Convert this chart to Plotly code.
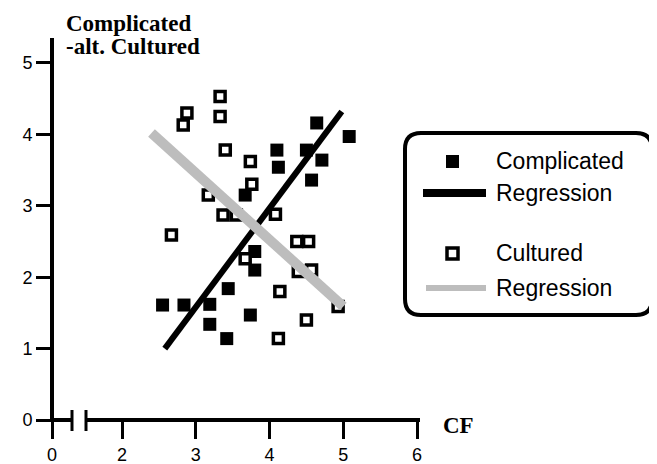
import plotly.graph_objects as go

# ---- data ----
complicated_x = [2.55, 2.84, 3.19, 3.19, 3.42, 3.44, 3.74, 3.80, 3.80, 3.67, 4.10, 4.12, 4.50, 4.57, 4.64, 4.71, 5.08]
complicated_y = [1.61, 1.61, 1.62, 1.34, 1.14, 1.84, 1.47, 2.10, 2.36, 3.15, 3.78, 3.54, 3.78, 3.36, 4.16, 3.64, 3.97]

cultured_x = [3.33, 2.88, 2.83, 3.33, 3.40, 3.74, 3.76, 3.17, 3.37, 3.55, 4.08, 2.67, 4.37, 4.53, 3.67, 4.39, 4.57, 4.14, 4.93, 4.50, 4.12]
cultured_y = [4.53, 4.30, 4.13, 4.25, 3.78, 3.62, 3.30, 3.15, 2.87, 2.87, 2.88, 2.59, 2.50, 2.50, 2.26, 2.08, 2.10, 1.80, 1.59, 1.40, 1.14]

reg_complicated_x = [2.58, 4.98]
reg_complicated_y = [1.00, 4.32]
reg_cultured_x = [2.40, 5.00]
reg_cultured_y = [4.02, 1.59]

x_tick_vals = [1.051, 2, 3, 4, 5, 6]   # first tick is the "0" placed before the axis break
x_tick_text = ["0", "2", "3", "4", "5", "6"]
y_tick_vals = [0, 1, 2, 3, 4, 5]
y_tick_text = ["0", "1", "2", "3", "4", "5"]

# ---- layout geometry (screen pixels; page has an 8px body offset) ----
OFF = 8
W, H = 657, 464
SL, SR, ST, SB = 52, 420, 38, 420   # plot area edges in screen pixels
L, R, T, B = SL - OFF, SR - OFF, ST - OFF, SB - OFF
PW, PH = R - L, B - T


def px(xs):
    return (xs - SL) / PW


def py(ys):
    return (SB - ys) / PH


fig = go.Figure()

fig.add_trace(go.Scatter(
    x=complicated_x, y=complicated_y, mode="markers", name="Complicated",
    marker=dict(symbol="square", size=13, color="black", line=dict(width=0)),
))
fig.add_trace(go.Scatter(
    x=cultured_x, y=cultured_y, mode="markers", name="Cultured",
    marker=dict(symbol="square", size=10, color="white", line=dict(width=3.5, color="black")),
))
fig.add_trace(go.Scatter(
    x=reg_complicated_x, y=reg_complicated_y, mode="lines", name="Regression",
    line=dict(color="black", width=6),
))
fig.add_trace(go.Scatter(
    x=reg_cultured_x, y=reg_cultured_y, mode="lines", name="Regression",
    line=dict(color="#bdbdbd", width=10),
))

shapes = []
# y axis line
shapes.append(dict(type="line", xref="paper", yref="paper",
                   x0=px(52), x1=px(52), y0=py(421), y1=py(38),
                   line=dict(color="black", width=4)))
# x axis with break
shapes.append(dict(type="line", xref="paper", yref="paper",
                   x0=px(50), x1=px(72), y0=py(420), y1=py(420),
                   line=dict(color="black", width=4)))
shapes.append(dict(type="line", xref="paper", yref="paper",
                   x0=px(86), x1=px(420), y0=py(420), y1=py(420),
                   line=dict(color="black", width=4)))
for bx in (72, 86):
    shapes.append(dict(type="line", xref="paper", yref="paper",
                       x0=px(bx), x1=px(bx), y0=py(410), y1=py(431),
                       line=dict(color="black", width=3)))

# legend rounded box
lx0, lx1, ly0, ly1, rr = 405, 652, 133, 315, 16
path = (f"M {px(lx0 + rr)},{py(ly0)} L {px(lx1 - rr)},{py(ly0)} "
        f"Q {px(lx1)},{py(ly0)} {px(lx1)},{py(ly0 + rr)} "
        f"L {px(lx1)},{py(ly1 - rr)} Q {px(lx1)},{py(ly1)} {px(lx1 - rr)},{py(ly1)} "
        f"L {px(lx0 + rr)},{py(ly1)} Q {px(lx0)},{py(ly1)} {px(lx0)},{py(ly1 - rr)} "
        f"L {px(lx0)},{py(ly0 + rr)} Q {px(lx0)},{py(ly0)} {px(lx0 + rr)},{py(ly0)} Z")
shapes.append(dict(type="path", xref="paper", yref="paper", path=path,
                   line=dict(color="black", width=4), fillcolor="white", layer="below"))
# legend symbols
shapes.append(dict(type="rect", xref="paper", yref="paper",
                   x0=px(446), x1=px(459), y0=py(168), y1=py(155),
                   fillcolor="black", line=dict(width=0)))
shapes.append(dict(type="line", xref="paper", yref="paper",
                   x0=px(423), x1=px(486), y0=py(193), y1=py(193),
                   line=dict(color="black", width=8)))
shapes.append(dict(type="rect", xref="paper", yref="paper",
                   x0=px(447), x1=px(458), y0=py(259), y1=py(248),
                   fillcolor="white", line=dict(color="black", width=3.5)))
shapes.append(dict(type="line", xref="paper", yref="paper",
                   x0=px(426), x1=px(486), y0=py(288), y1=py(288),
                   line=dict(color="#bdbdbd", width=6)))

sans = "Liberation Sans, Arial, sans-serif"
serif = "Liberation Serif, Times New Roman, serif"

annotations = []
for txt, yy in (("Complicated", 161), ("Regression", 193), ("Cultured", 253), ("Regression", 288)):
    annotations.append(dict(text=txt, xref="paper", yref="paper", x=px(494), y=py(yy),
                            xanchor="left", yanchor="middle", showarrow=False,
                            font=dict(family=sans, size=23, color="black")))
annotations.append(dict(text="<b>Complicated</b>", xref="paper", yref="paper", x=px(65), y=py(23),
                        xanchor="left", yanchor="middle", showarrow=False, borderpad=0,
                        font=dict(family=serif, size=23, color="black")))
annotations.append(dict(text="<b>-alt. Cultured</b>", xref="paper", yref="paper", x=px(65), y=py(46),
                        xanchor="left", yanchor="middle", showarrow=False, borderpad=0,
                        font=dict(family=serif, size=23, color="black")))
annotations.append(dict(text="<b>CF</b>", xref="paper", yref="paper", x=px(441), y=py(425),
                        xanchor="left", yanchor="middle", showarrow=False,
                        font=dict(family=serif, size=23, color="black")))

fig.update_layout(
    width=W, height=H,
    margin=dict(l=L, r=W - R, t=T, b=H - B, pad=0),
    paper_bgcolor="white", plot_bgcolor="white",
    showlegend=False,
    shapes=shapes, annotations=annotations,
    xaxis=dict(range=[1.051, 6.04], showgrid=False, zeroline=False, showline=False,
               ticks="outside", ticklen=18, tickwidth=3, tickcolor="black",
               tickvals=x_tick_vals, ticktext=x_tick_text, automargin=False,
               tickfont=dict(family=sans, size=18, color="black")),
    yaxis=dict(range=[0, 5.35], showgrid=False, zeroline=False, showline=False,
               ticks="outside", ticklen=15, tickwidth=3, tickcolor="black",
               tickvals=y_tick_vals, ticktext=y_tick_text, automargin=False,
               tickfont=dict(family=sans, size=18, color="black")),
)

fig.write_html("out.html")
